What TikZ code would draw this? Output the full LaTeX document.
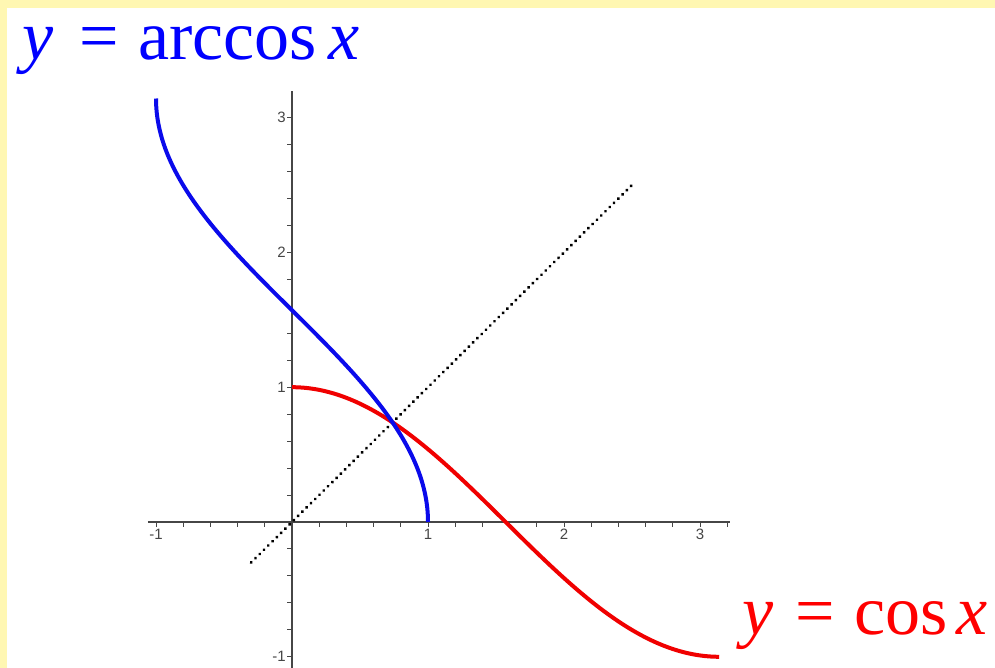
\documentclass[tikz,border=0pt]{standalone}
\usepackage{fontspec}
\setmainfont{Liberation Serif}
\setsansfont{Liberation Sans}
\definecolor{bgyellow}{RGB}{255,247,178}
\definecolor{axisgray}{RGB}{70,70,70}
\definecolor{curveblue}{RGB}{10,10,235}
\definecolor{curvered}{RGB}{240,0,0}
\begin{document}
\begin{tikzpicture}[x=1pt,y=1pt,
  axisline/.style={axisgray,line width=1.3pt},
  ticklabel/.style={font=\sffamily\fontsize{15}{15}\selectfont,text=axisgray,inner sep=1pt},
  eqn/.style={font=\fontsize{70}{70}\selectfont,inner sep=0pt,anchor=base west}]
\useasboundingbox (0,0) rectangle (995,668);
\fill[bgyellow] (0,0) rectangle (995,668);
\fill[white] (7,0) rectangle (995,660);
\begin{scope}[shift={(292,146)},x=136pt,y=134.8pt]
  \draw[axisline] (-1.06,0) coordinate (xl) -- (3.22,0) coordinate (xr);
  \draw[axisline] (0,-1.1) coordinate (yb) -- (0,3.2) coordinate (yt);
  \foreach \i in {-5,...,16} {\draw[axisline,line width=1pt] (\i*0.2,0) -- ++(0,-5pt);}
  \foreach \i in {-5,...,15} {\draw[axisline,line width=1pt] (0,\i*0.2) -- ++(-5pt,0);}
  \foreach \v/\t in {-1/-1,1/1,2/2,3/3} {\node[ticklabel,anchor=north] (xt\v) at (\v,-6pt) {\t};}
  \foreach \v/\t in {-1/-1,1/1,2/2,3/3} {\node[ticklabel,anchor=east] (yt\v) at (-5pt,\v) {\t};}
  \draw[black,line width=3.4pt,line cap=round,dash pattern=on 0.01pt off 6pt] (-0.3,-0.3) coordinate (da) -- (2.5,2.5) coordinate (db);
  \draw[curvered,line width=4pt] plot[domain=0:3.14159,samples=120,smooth] (\x,{cos(\x r)});
  \draw[curveblue,line width=4pt] plot[domain=0:180,samples=120,smooth] ({cos(\x)},{\x*pi/180});
\end{scope}
\node[eqn,text=blue] (t1) at (22,608) {\textit{y}\hspace{0.38em}=\hspace{0.27em}arccos\hspace{0.16em}\textit{x}};
\node[eqn,text=red] (t2) at (742,33) {\textit{y}\hspace{0.31em}=\hspace{0.28em}cos\hspace{0.13em}\textit{x}};
\end{tikzpicture}
\end{document}
